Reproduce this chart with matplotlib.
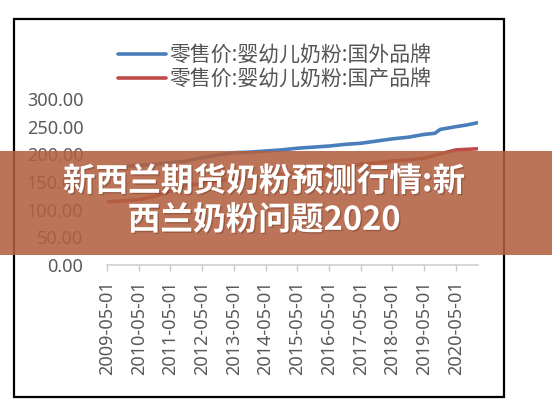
import pandas as pd
import matplotlib
matplotlib.use('Agg')
import matplotlib.pyplot as plt
import matplotlib.dates as mdates
import matplotlib.patheffects as pe
from matplotlib.patches import Rectangle
from matplotlib.ticker import FormatStrFormatter

plt.rcParams['font.family'] = ['Noto Sans CJK SC', 'DejaVu Sans']

dates = ['2009-05-01', '2009-11-01', '2010-05-01', '2010-11-01', '2011-05-01', '2011-11-01',
         '2012-05-01', '2012-11-01', '2013-05-01', '2013-11-01', '2014-05-01', '2014-11-01',
         '2015-05-01', '2015-11-01', '2016-05-01', '2016-11-01', '2017-05-01', '2017-11-01',
         '2018-05-01', '2018-11-01', '2019-05-01', '2019-09-01', '2019-11-01', '2020-05-01',
         '2020-09-01', '2021-01-01']
foreign = [177, 178, 180, 182, 185, 188, 194, 199, 203, 204, 206, 208, 211, 213, 215, 218,
           220, 224, 228, 231, 236, 238, 245, 250, 253, 257]
domestic = [114, 116, 118, 124, 133, 143, 148, 152, 156, 158, 161, 164, 167, 170, 173, 177,
            182, 185, 188, 190, 193, 198, 201, 208, 209, 210]
labels = ['零售价:婴幼儿奶粉:国外品牌', '零售价:婴幼儿奶粉:国产品牌']
tick_dates = pd.date_range('2009-05-01', '2020-05-01', freq='12MS')
title = '新西兰期货奶粉预测行情:新\n西兰奶粉问题2020'

x = pd.to_datetime(dates)

fig = plt.figure(figsize=(5.52, 4.07), dpi=100)
ax = fig.add_axes([107 / 552, 1 - 265 / 407, 371 / 552, 166 / 407])

ax.plot(x, foreign, color='#4A7EBB', lw=2.6, label=labels[0], solid_capstyle='round')
ax.plot(x, domestic, color='#BE4B48', lw=2.6, label=labels[1], solid_capstyle='round')

ax.set_ylim(0, 300)
ax.set_yticks([0, 50, 100, 150, 200, 250, 300])
ax.yaxis.set_major_formatter(FormatStrFormatter('%.2f'))
ax.set_xlim(pd.Timestamp('2009-05-01'), pd.Timestamp('2021-01-10'))
ax.set_xticks(tick_dates)
ax.xaxis.set_major_formatter(mdates.DateFormatter('%Y-%m-%d'))

for s in ['top', 'right', 'left']:
    ax.spines[s].set_visible(False)
ax.spines['bottom'].set_color('#D0D0D0')
ax.spines['bottom'].set_linewidth(1.2)
ax.tick_params(axis='x', direction='out', length=4, color='#C8C8C8', width=1,
               labelrotation=90, labelsize=13, labelcolor='#595959', pad=7)
ax.tick_params(axis='y', length=0, labelsize=13, labelcolor='#595959', pad=17)
for t in ax.get_xticklabels() + ax.get_yticklabels():
    t.set_family(['Noto Sans', 'DejaVu Sans'])

fig.legend(loc='upper left', bbox_to_anchor=(108 / 552, 1 - 34 / 407), frameon=False,
           fontsize=15, handlelength=2.3, handletextpad=0.15, labelspacing=0.1,
           labelcolor='#555555', borderpad=0)

# outer frame
fig.patches.append(Rectangle((14 / 552, 1 - 397 / 407), 490 / 552, 378 / 407,
                             transform=fig.transFigure, fill=False, ec='black', lw=1.6,
                             zorder=1))
# banner
fig.patches.append(Rectangle((0, 1 - 255 / 407), 1, 104 / 407, transform=fig.transFigure,
                             fc=(179 / 255, 97 / 255, 65 / 255), alpha=0.88, ec='none',
                             zorder=2))
fig.text(264 / 552, 1 - 201 / 407, title, ha='center', va='center', color='white',
         fontsize=23.5, fontweight='bold', linespacing=1.22, zorder=3,
         path_effects=[pe.withSimplePatchShadow(offset=(1, -1), shadow_rgbFace='#5a2a18',
                                                alpha=0.35)])

fig.savefig('out.png', dpi=100)
